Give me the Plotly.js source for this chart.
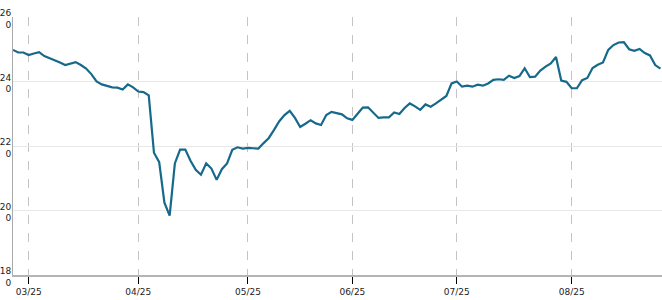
<!DOCTYPE html>
<html>
<head>
<meta charset="utf-8">
<script src="https://cdn.plot.ly/plotly-3.0.1.min.js"></script>
<style>html,body{margin:0;padding:0;background:#fff;}#chart{width:662px;height:300px;}</style>
</head>
<body>
<div id="chart"></div>
<script>
// Daily values (trading-day index)
const values = [
  249.8, 249.0, 249.0, 248.2, 248.7, 249.1, 247.9, 247.3, 246.7, 245.9,
  245.1, 245.6, 246.0, 245.1, 244.0, 242.3, 240.0, 239.1, 238.6, 238.2,
  238.1, 237.5, 239.1, 238.2, 236.9, 236.7, 235.7, 217.9, 215.0, 202.4,
  198.4, 214.6, 218.9, 218.9, 215.4, 212.6, 211.1, 214.6, 213.0, 209.5,
  212.8, 214.6, 218.8, 219.6, 219.2, 219.4, 219.3, 219.2, 220.9, 222.5,
  225.0, 227.7, 229.6, 230.9, 228.7, 225.9, 226.9, 228.0, 227.0, 226.5,
  229.6, 230.6, 230.2, 229.8, 228.6, 228.1, 230.0, 231.9, 232.0, 230.3,
  228.7, 228.9, 228.9, 230.4, 229.9, 231.8, 233.2, 232.3, 231.2, 232.9,
  232.2, 233.2, 234.5, 235.5, 239.4, 240.0, 238.4, 238.7, 238.4, 239.0,
  238.7, 239.4, 240.5, 240.7, 240.5, 241.8, 241.1, 241.7, 244.1, 241.4,
  241.5, 243.4, 244.6, 245.6, 247.6, 240.3, 239.9, 237.9, 237.9, 240.4,
  241.1, 244.2, 245.2, 245.9, 249.8, 251.3, 252.1, 252.2, 250.0, 249.5,
  250.1, 248.8, 248.1, 245.1, 244.0
];
const xIndex = values.map((_, i) => i);
// Month-start tick positions (trading-day index) and labels
const monthTickIdx = [3, 24, 45, 65, 85, 107];
const monthTickText = ['03/25', '04/25', '05/25', '06/25', '07/25', '08/25'];
const yTickVals = [180, 200, 220, 240, 260];
const yTickText = ['18<br>0', '20<br>0', '22<br>0', '24<br>0', '26<br>0'];

const trace = {
  x: xIndex, y: values, type: 'scatter', mode: 'lines',
  line: {color: '#16698a', width: 2.2}, hoverinfo: 'skip'
};
const font = {family: 'DejaVu Sans, Verdana, sans-serif', size: 9, color: '#222'};
const layout = {
  width: 662, height: 300,
  margin: {l: 13, r: 0, t: 17, b: 25, pad: 0},
  paper_bgcolor: '#fff', plot_bgcolor: '#fff',
  showlegend: false,
  font: font,
  xaxis: {
    range: [0, 124.3], tickvals: monthTickIdx, ticktext: monthTickText,
    showgrid: true, gridcolor: '#c4c4c4', griddash: 'dash', gridwidth: 1,
    ticks: 'outside', ticklen: 7, tickcolor: '#000', tickwidth: 1,
    showline: true, linecolor: '#b4b4b4', linewidth: 2,
    zeroline: false, tickfont: font, fixedrange: true
  },
  yaxis: {
    range: [180, 260], tickvals: yTickVals, ticktext: yTickText,
    showgrid: true, gridcolor: '#e8e8e8', gridwidth: 1,
    ticks: '', showline: true, linecolor: '#aaaaaa', linewidth: 1,
    zeroline: false, tickfont: font, fixedrange: true,
    ticklabelstandoff: -1, ticklabelshift: 2
  }
};
Plotly.newPlot('chart', [trace], layout, {displayModeBar: false, staticPlot: true});
</script>
</body>
</html>
